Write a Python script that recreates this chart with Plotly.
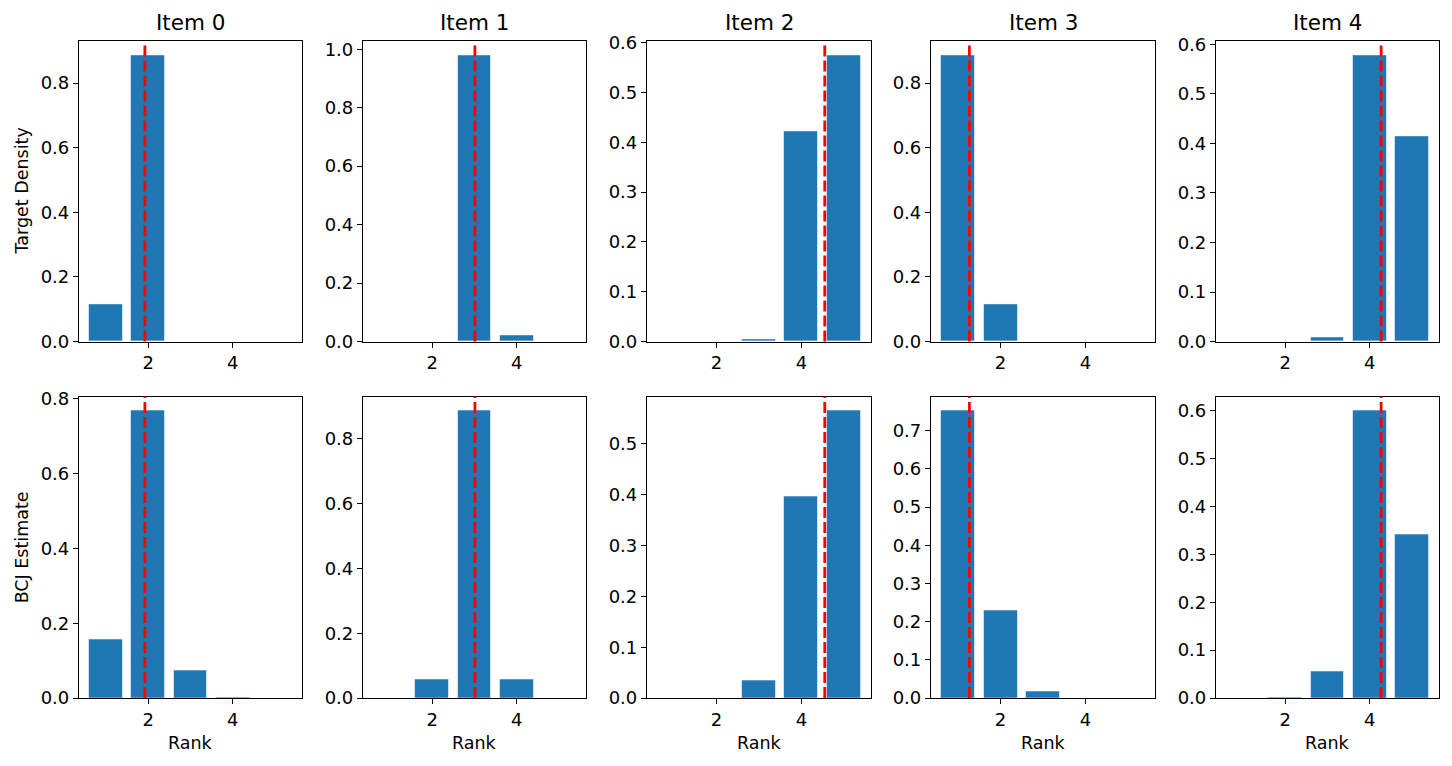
import plotly.graph_objects as go

W, H = 1452, 766

ranks = [1, 2, 3, 4, 5]
items = ["Item 0", "Item 1", "Item 2", "Item 3", "Item 4"]
row_labels = ["Target Density", "BCJ Estimate"]

target_item0 = [0.115, 0.885, 0.0, 0.0, 0.0]
target_item1 = [0.0, 0.0, 0.978, 0.022, 0.0]
target_item2 = [0.0, 0.0, 0.004, 0.422, 0.574]
target_item3 = [0.885, 0.115, 0.0, 0.0, 0.0]
target_item4 = [0.0, 0.0, 0.008, 0.577, 0.415]

bcj_item0 = [0.157, 0.768, 0.073, 0.002, 0.0]
bcj_item1 = [0.0, 0.057, 0.885, 0.057, 0.0]
bcj_item2 = [0.0, 0.0, 0.034, 0.397, 0.565]
bcj_item3 = [0.752, 0.229, 0.016, 0.0, 0.0]
bcj_item4 = [0.0, 0.001, 0.055, 0.599, 0.342]

true_rank = [1.92, 3.01, 4.55, 1.265, 4.27]

ytick_step_target = [0.2, 0.2, 0.1, 0.2, 0.1]
ytick_step_bcj = [0.2, 0.2, 0.1, 0.1, 0.1]

target = [target_item0, target_item1, target_item2, target_item3, target_item4]
bcj = [bcj_item0, bcj_item1, bcj_item2, bcj_item3, bcj_item4]


def ypx(y):
    # compensate for the vertical offset/scale observed in the rendered page
    return (y - 8.3) / 0.9756


# pixel layout of axes (left, right) and rows (top, bottom)
col_px = [(79, 302), (363, 586), (647, 871), (931, 1155), (1216, 1439)]
row_px = [(ypx(40.7), ypx(341)), (ypx(396), ypx(697.7))]

FONT = "DejaVu Sans, Liberation Sans, sans-serif"

fig = go.Figure()
shapes = []
annotations = []
layout_axes = {}

idx = 0
for r, data in enumerate([target, bcj]):
    steps = ytick_step_target if r == 0 else ytick_step_bcj
    for c in range(5):
        idx += 1
        xa = "x" if idx == 1 else f"x{idx}"
        ya = "y" if idx == 1 else f"y{idx}"
        vals = data[c]
        fig.add_trace(go.Bar(
            x=ranks, y=vals, width=0.8, xaxis=xa, yaxis=ya,
            marker=dict(color="#1f77b4", line=dict(color="rgba(255,255,255,0.55)", width=1)),
            showlegend=False, hoverinfo="x+y",
        ))
        ymax = max(vals) * 1.05
        l, rr = col_px[c]
        t, b = row_px[r]
        axis_common = dict(
            showline=True, linecolor="black", linewidth=1.2, mirror=True,
            ticks="outside", ticklen=5, tickwidth=1.2, tickcolor="black",
            showgrid=False, zeroline=False,
            tickfont=dict(family=FONT, size=18, color="black"),
        )
        layout_axes["xaxis" if idx == 1 else f"xaxis{idx}"] = dict(
            domain=[l / W, rr / W], range=[0.36, 5.64],
            tickmode="array", tickvals=[2, 4], ticktext=["2", "4"],
            anchor=ya, **axis_common,
        )
        layout_axes["yaxis" if idx == 1 else f"yaxis{idx}"] = dict(
            domain=[1 - b / H, 1 - t / H], range=[0, ymax],
            tick0=0, dtick=steps[c], tickformat=".1f",
            anchor=xa, **axis_common,
        )
        shapes.append(dict(
            type="line", xref=xa, yref=f"{ya} domain",
            x0=true_rank[c], x1=true_rank[c], y0=0, y1=1,
            line=dict(color="red", width=2.8, dash="11px,4px"),
            layer="above",
        ))
        if r == 0:
            annotations.append(dict(
                text=items[c], xref="paper", yref="paper",
                x=(l + rr) / 2 / W, y=1 - ypx(22) / H, xanchor="center", yanchor="middle",
                showarrow=False, font=dict(family=FONT, size=21.5, color="black"),
            ))
        else:
            annotations.append(dict(
                text="Rank", xref="paper", yref="paper",
                x=(l + rr) / 2 / W, y=1 - ypx(743) / H, xanchor="center", yanchor="middle",
                showarrow=False, font=dict(family=FONT, size=17.5, color="black"),
            ))
    t, b = row_px[r]
    annotations.append(dict(
        text=row_labels[r], xref="paper", yref="paper",
        x=22 / W, y=1 - (t + b) / 2 / H, xanchor="center", yanchor="middle",
        textangle=-90, showarrow=False, font=dict(family=FONT, size=17.5, color="black"),
    ))

fig.update_layout(
    width=W, height=H,
    margin=dict(l=0, r=0, t=0, b=0),
    paper_bgcolor="white", plot_bgcolor="white",
    shapes=shapes, annotations=annotations,
    bargap=0, **layout_axes,
)

post = (
    "document.documentElement.style.margin='0';"
    "document.documentElement.style.padding='0';"
    "document.documentElement.style.overflow='hidden';"
    "document.body.style.margin='0';"
    "document.body.style.padding='0';"
    "document.body.style.overflow='hidden';"
    "document.body.style.height='766px';"
    "var gd=document.getElementById('{plot_id}');"
    "gd.style.display='block';"
    "gd.parentElement.style.height='766px';"
    "gd.parentElement.style.overflow='hidden';"
)

fig.write_html(
    "out.html",
    config={"displayModeBar": False, "responsive": False},
    post_script=post,
)
